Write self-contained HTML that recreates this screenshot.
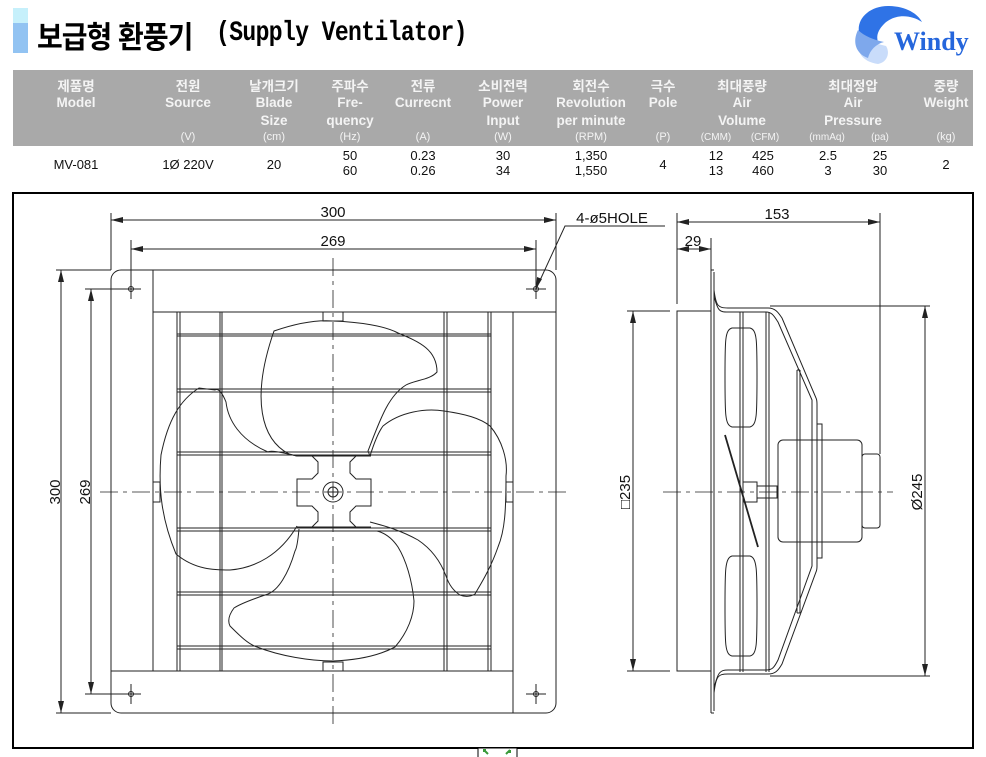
<!DOCTYPE html>
<html><head><meta charset="utf-8"><style>
body{margin:0;background:#fff;width:986px;height:757px;overflow:hidden;position:relative;font-family:"Liberation Sans","Noto Sans CJK KR",sans-serif}
.a{position:absolute}
</style></head><body>
<div class="a" style="left:13px;top:8px;width:15px;height:15px;background:#c6f0fb"></div>
<div class="a" style="left:13px;top:23px;width:15px;height:30px;background:#92c3f2"></div>
<div class="a" style="left:37px;top:14px;font:bold 28px 'Liberation Sans','Noto Sans CJK KR',sans-serif;color:#000;letter-spacing:-1px;transform:scaleY(1.1);transform-origin:0 0">보급형 환풍기</div>
<div class="a" style="left:216px;top:17px;font:bold 23px 'Liberation Mono',monospace;color:#000;transform:scaleY(1.2);transform-origin:0 0;letter-spacing:-0.6px">(Supply Ventilator)</div>
<svg class="a" style="left:848px;top:2px" width="135" height="66" viewBox="0 0 135 66">
<path d="M14 38 C4 22 18 4 40 4 C58 4 70 12 74 20 C62 12 46 12 36 22 C30 28 28 34 30 40 Z" fill="#2f73e6"/>
<path d="M14 38 C6 48 14 60 30 62 C40 60 42 50 38 44 C30 42 22 40 14 38Z" fill="#c9dcfa"/>
<path d="M10 28 C4 40 8 52 20 56 C22 48 28 42 36 40 C26 38 16 34 10 28Z" fill="#7ea8ec"/>
<text x="46" y="48" font-family="Liberation Serif,serif" font-weight="bold" font-size="26" fill="#2566dc">Windy</text>
</svg>
<svg class="a" style="left:0;top:0" width="986" height="757" font-family="Liberation Sans,Noto Sans CJK KR,sans-serif">
<rect x="13" y="70" width="960" height="76" fill="#a9a9a9"/>
<g fill="#f4f4f4" font-size="13.5" font-weight="bold" text-anchor="middle">
<text x="76" y="91">제품명</text><text x="76" y="107">Model</text>
<text x="188" y="91">전원</text><text x="188" y="107">Source</text><text x="188" y="140" font-size="11" font-weight="normal">(V)</text>
<text x="274" y="91">날개크기</text><text x="274" y="107">Blade</text><text x="274" y="125">Size</text><text x="274" y="140" font-size="11" font-weight="normal">(cm)</text>
<text x="350" y="91">주파수</text><text x="350" y="107">Fre-</text><text x="350" y="125">quency</text><text x="350" y="140" font-size="11" font-weight="normal">(Hz)</text>
<text x="423" y="91">전류</text><text x="423" y="107">Currecnt</text><text x="423" y="140" font-size="11" font-weight="normal">(A)</text>
<text x="503" y="91">소비전력</text><text x="503" y="107">Power</text><text x="503" y="125">Input</text><text x="503" y="140" font-size="11" font-weight="normal">(W)</text>
<text x="591" y="91">회전수</text><text x="591" y="107">Revolution</text><text x="591" y="125">per minute</text><text x="591" y="140" font-size="11" font-weight="normal">(RPM)</text>
<text x="663" y="91">극수</text><text x="663" y="107">Pole</text><text x="663" y="140" font-size="11" font-weight="normal">(P)</text>
<text x="742" y="91">최대풍량</text><text x="742" y="107">Air</text><text x="742" y="125">Volume</text><text x="716" y="140" font-size="10" font-weight="normal">(CMM)</text><text x="765" y="140" font-size="10" font-weight="normal">(CFM)</text>
<text x="853" y="91">최대정압</text><text x="853" y="107">Air</text><text x="853" y="125">Pressure</text><text x="827" y="140" font-size="10" font-weight="normal">(mmAq)</text><text x="880" y="140" font-size="10" font-weight="normal">(pa)</text>
<text x="946" y="91">중량</text><text x="946" y="107">Weight</text><text x="946" y="140" font-size="11" font-weight="normal">(kg)</text>
</g>
<g fill="#111" font-size="13" text-anchor="middle">
<text x="76" y="169">MV-081</text><text x="188" y="169">1Ø 220V</text><text x="274" y="169">20</text>
<text x="350" y="160">50</text><text x="350" y="175">60</text>
<text x="423" y="160">0.23</text><text x="423" y="175">0.26</text>
<text x="503" y="160">30</text><text x="503" y="175">34</text>
<text x="591" y="160">1,350</text><text x="591" y="175">1,550</text>
<text x="663" y="169">4</text>
<text x="716" y="160">12</text><text x="716" y="175">13</text><text x="763" y="160">425</text><text x="763" y="175">460</text>
<text x="828" y="160">2.5</text><text x="828" y="175">3</text><text x="880" y="160">25</text><text x="880" y="175">30</text>
<text x="946" y="169">2</text>
</g>
<rect x="13" y="193" width="960" height="555" fill="none" stroke="#000" stroke-width="2"/>
<rect x="478" y="748" width="39" height="10" fill="#fff" stroke="#000"/>
<g stroke="#222" stroke-width="1" fill="none">
<rect x="111" y="270" width="445" height="443" rx="10"/>
<path d="M153 270V671M153 312H556M111 671H513M513 312V713"/>
<path d="M177 312V671M180 312V671M220 312V671M222 312V671M444 312V671M447 312V671M488 312V671M491 312V671"/>
<path d="M177 334H491M177 336H491M177 389H491M177 392H491M177 452H491M177 455H491M177 528H491M177 531H491M177 592H491M177 595H491M177 646H491M177 649H491"/>
<path d="M297 456 L289 454 C262 440 250 400 274 331 C300 322 320 320 333 321 C360 322 385 326 398 333 C420 342 437 350 437 372 C430 380 415 380 406 385 C388 396 380 420 368 451 L370 456"/>
<path d="M297 456 C280 452 270 450 268 452 C240 440 228 420 226 402 C222 392 218 388 215 390 L199 388 C180 400 168 420 161 455 C158 490 162 520 176 554 C195 570 215 570 230 570 C255 568 280 555 297 526"/>
<path d="M370 456 C375 440 380 430 383 426 C400 412 425 408 444 411 C465 414 480 418 490 426 C502 440 508 460 506 476 C506 510 505 530 498 547 C490 570 480 585 475 594 C470 597 465 597 460 595 C452 590 448 582 446 576 C440 560 430 548 418 540 C400 530 385 526 370 522"/>
<path d="M299 529 C298 540 297 548 295 551 C288 575 278 590 268 594 C250 600 240 604 234 608 C228 616 228 622 230 626 C240 636 248 644 257 647 C280 656 310 661 333 661 C360 660 380 655 395 647 C408 632 414 615 414 601 C412 580 406 560 398 547 C392 538 385 533 377 531"/>
<path d="M297 456H312L318 462V473L312 479H297V506H312L318 512V521L312 527H297M371 456H356L350 462V473L356 479H371V506H356L350 512V521L356 527H371" />
<path d="M299 456H369M299 527H369"/>
<circle cx="333" cy="492" r="10"/><circle cx="333" cy="492" r="5"/><path d="M328 492H338M333 487V497"/>
<path d="M323 312V321H343V312M323 671V662H343V671M153 482H160V502H153M513 482H506V502H513"/>
<circle cx="131" cy="289" r="2.5"/><circle cx="536" cy="289" r="2.5"/><circle cx="131" cy="694" r="2.5"/><circle cx="536" cy="694" r="2.5"/>
<path d="M121 289H141M131 279V299M526 289H546M536 279V299M121 694H141M131 684V704M526 694H546M536 684V704"/>
<path d="M100 492H569M333 258V724" stroke-dasharray="18,5,4,5" stroke-width="0.8"/>
<path d="M111 213V270M556 213V270M131 240V289M536 240V289M111 220H556M131 249H536"/>
<path d="M56 270H111M56 713H111M85 289H131M85 694H131M61 270V713M91 289V694"/>
<path d="M536 289L565 226H665"/>
<rect x="677" y="311" width="34" height="360"/>
<path d="M711 270V713M714 272V711M711 270H714M711 713H714"/>
<path d="M714 290 C716 306 718 308 728 308 H768 C775 308 778 312 782 318 L816 398 C817 400 817 402 817 404 V566 C817 568 817 570 816 572 L782 664 C778 671 775 674 768 674 H728 C718 674 716 676 714 693"/>
<path d="M714 296 C718 312 720 312 728 312 H766 C772 312 774 316 778 322 L812 400 V566 L778 660 C774 668 772 670 766 670 H728 C720 670 718 672 714 688"/>
<path d="M740 312V672M743 312V672M766 312V672M769 312V672"/>
<path d="M732 328 C725 330 725 340 725 376 C725 415 725 425 732 427 H750 C757 425 757 415 757 376 C757 340 757 330 750 328Z"/>
<path d="M732 556 C725 558 725 570 725 606 C725 645 725 654 732 656 H750 C757 654 757 645 757 606 C757 570 757 558 750 556Z"/>
<path d="M725 435L758 547" stroke-width="1.8"/>
<rect x="743" y="482" width="14" height="20"/><rect x="757" y="486" width="20" height="12"/>
<path d="M797 370V613M800 370V613M797 370H800M797 613H800"/>
<rect x="817" y="424" width="5" height="134"/>
<rect x="778" y="440" width="84" height="102" rx="5"/>
<rect x="862" y="454" width="18" height="74" rx="3"/>
<path d="M663 492H893" stroke-dasharray="18,5,4,5" stroke-width="0.8"/>
<path d="M677 213V304M880 213V454M711 238V270M677 222H880M677 249H711"/>
<path d="M627 311H670M627 671H670M633 311V671"/>
<path d="M770 306H930M770 676H930M925 306V676"/>
</g>
<g fill="#222">
<path d="M111 220l12-3v6zM556 220l-12-3v6zM131 249l12-3v6zM536 249l-12-3v6z"/>
<path d="M61 270l-3 12h6zM61 713l-3-12h6zM91 289l-3 12h6zM91 694l-3-12h6z"/>
<path d="M677 222l12-3v6zM880 222l-12-3v6zM677 249l12-3v6zM711 249l-12-3v6z"/>
<path d="M633 311l-3 12h6zM633 671l-3-12h6zM925 306l-3 12h6zM925 676l-3-12h6z"/>
<path d="M536 289l1-12 5 2z"/>
</g>
<g fill="#111" font-size="15" text-anchor="middle">
<text x="333" y="217">300</text><text x="333" y="246">269</text>
<text x="612" y="223" text-anchor="middle">4-ø5HOLE</text>
<text x="777" y="219">153</text><text x="693" y="246">29</text>
<text transform="translate(60,492) rotate(-90)">300</text>
<text transform="translate(90,492) rotate(-90)">269</text>
<text transform="translate(630,492) rotate(-90)">□235</text>
<text transform="translate(922,492) rotate(-90)">Ø245</text>
</g>
<path d="M484 750l4 4M486 750h-2v2M510 750l-4 4M510 750v2h-2" stroke="#3a9a3a" stroke-width="2" fill="none"/>
</svg>
</body></html>
